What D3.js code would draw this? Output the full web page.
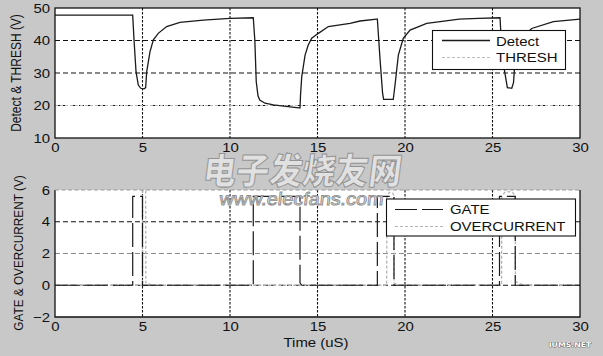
<!DOCTYPE html>
<html>
<head>
<meta charset="utf-8">
<script src="https://cdnjs.cloudflare.com/ajax/libs/d3/7.8.5/d3.min.js"></script>
<style>
  body { margin: 0; background: #c8c8c8; }
  svg { display: block; }
</style>
</head>
<body>
<script>
// ---- data ----
// top panel: Detect (V) against time (uS)
var detectT = [0, 4.44, 4.51, 4.63, 4.76, 4.9, 5.09, 5.18, 5.24, 5.43, 5.62, 5.9, 6.38, 7.14, 8.47, 10.0, 11.33,
  11.42, 11.5, 11.6, 11.7, 12.0, 12.48, 13.43, 13.95,
  14.0, 14.03, 14.1, 14.29, 14.47, 14.67, 15.05, 15.62, 16.86, 17.43, 18.38,
  18.42, 18.57, 18.72, 18.78, 19.33, 19.43, 19.62, 19.9, 20.29, 21.24, 23.1, 24.2, 25.43,
  25.5, 25.68, 25.85, 26.1, 26.2, 26.25, 26.45, 26.8, 27.24, 28.48, 30];
var detectV = [47.8, 47.8, 40.7, 30.4, 26.3, 25.3, 25.1, 25.5, 30.4, 36.6, 40.2, 42.2, 44.3, 45.6, 46.3, 46.8, 47.0,
  40, 27.3, 23, 21.7, 20.7, 20.2, 19.6, 19.3,
  19.3, 23.2, 28.9, 35.5, 38.6, 40.7, 42.2, 44.3, 45.3, 46.0, 46.6,
  46.6, 34.5, 23.7, 21.9, 21.9, 26.3, 35.5, 40.7, 43.2, 45.3, 46.6, 46.8, 47.0,
  40, 30.9, 25.5, 25.3, 27, 30.9, 37, 41.5, 43.7, 45.8, 46.6];
var threshT = [0, 30];
var threshV = [20, 20];

// bottom panel: GATE and OVERCURRENT (V)
var gateT = [0, 4.44, 4.44, 5.0, 5.0, 11.33, 11.33, 14.0, 14.0, 14.1, 18.42, 18.42, 19.37, 19.37, 25.4, 25.4, 26.3, 26.3, 30];
var gateV = [0, 0, 5.6, 5.6, 0, 0, 5.6, 5.6, 0.15, 0, 0, 5.6, 5.6, 0, 0, 5.6, 5.6, 0, 0];
var ocT = [0, 5.0, 5.0, 5.18, 5.19, 5.35, 5.6, 18.95, 18.97, 19.1, 19.3, 19.37, 19.38, 19.6,
  25.52, 25.53, 25.7, 25.9, 26.15, 26.3, 26.31, 26.55, 26.8, 30];
var ocV = [0, 0, 5.95, 5.95, 0.15, 0.08, 0, 0, 5.6, 5.85, 5.8, 5.6, 0.15, 0,
  0, 5.6, 5.85, 5.9, 5.85, 5.6, 0.25, 0.1, 0, 0];

var xTicks = [0, 5, 10, 15, 20, 25, 30];
var topTicks = [10, 20, 30, 40, 50];
var botTicks = [-2, 0, 2, 4, 6];

// ---- drawing ----
var W = 603, H = 356;
var SX = 1.15; // the picture is stretched sideways a little
var font = "'Liberation Sans', Arial, sans-serif";

var svg = d3.select("body").append("svg").attr("width", W).attr("height", H)
  .style("font-family", font);
svg.append("rect").attr("width", W).attr("height", H).attr("fill", "#c8c8c8");

var x = d3.scaleLinear().domain([0, 30]).range([55, 580]);
var yTop = d3.scaleLinear().domain([10, 50]).range([138, 8]);
var yBot = d3.scaleLinear().domain([-2, 6]).range([317, 190]);

function label(g, px, py, str, size, anchor, rot) {
  var t = "translate(" + px + "," + py + ") scale(" + SX + ",1)" + (rot ? " rotate(" + rot + ")" : "");
  return g.append("text").attr("transform", t).attr("text-anchor", anchor || "start")
    .attr("font-size", size).attr("fill", "#111").text(str);
}

function panel(y, yTicks, lightGrid) {
  var g = svg.append("g");
  var x0 = x.range()[0], x1 = x.range()[1];
  var yb = y.range()[0], yt = y.range()[1];
  g.append("rect").attr("x", x0).attr("y", yt).attr("width", x1 - x0).attr("height", yb - yt).attr("fill", "#fff");

  // vertical grid (dotted)
  g.selectAll(".vg").data(xTicks.slice(1, -1)).enter().append("line")
    .attr("x1", d => x(d)).attr("x2", d => x(d)).attr("y1", yt).attr("y2", yb)
    .attr("stroke", "#111").attr("stroke-width", 1.1).attr("stroke-dasharray", "2.5,1.5");
  // horizontal grid (dashed)
  g.selectAll(".hg").data(yTicks.slice(1, -1)).enter().append("line")
    .attr("x1", x0).attr("x2", x1).attr("y1", d => y(d)).attr("y2", d => y(d))
    .attr("stroke", d => d === lightGrid ? "#8a8a8a" : "#111")
    .attr("stroke-width", 1.1).attr("stroke-dasharray", "5,3");

  // tick labels
  var xa = d3.axisBottom(x).tickValues(xTicks).tickSize(0).tickPadding(5).tickFormat(d3.format("d"));
  var ax = svg.append("g").attr("transform", "translate(0," + yb + ")").call(xa);
  var ya = d3.axisLeft(y).tickValues(yTicks).tickSize(0).tickPadding(5).tickFormat(d3.format("d"));
  var ay = svg.append("g").attr("transform", "translate(" + x0 + ",0)").call(ya);
  [ax, ay].forEach(function (a) {
    a.select(".domain").remove();
    a.selectAll("text").attr("font-size", 13).attr("font-family", font).attr("fill", "#111");
  });
  ax.selectAll("text").attr("transform", "scale(" + SX + ",1)");
  ay.selectAll("text").attr("x", -5 / SX).attr("transform", "scale(" + SX + ",1)");
  return g;
}

function lineOf(y) {
  return d3.line().x(d => x(d[0])).y(d => y(d[1]));
}

// ---- top panel ----
var gt = panel(yTop, topTicks, null);
gt.append("path").datum(d3.zip(threshT, threshV)).attr("d", lineOf(yTop))
  .attr("fill", "none").attr("stroke", "#bdbdbd").attr("stroke-width", 1.2).attr("stroke-dasharray", "3,2");
gt.append("path").datum(d3.zip(detectT, detectV)).attr("d", lineOf(yTop))
  .attr("fill", "none").attr("stroke", "#1a1a1a").attr("stroke-width", 1.3);
gt.append("rect").attr("x", 55).attr("y", 8).attr("width", 525).attr("height", 130)
  .attr("fill", "none").attr("stroke", "#111").attr("stroke-width", 1.3);

// legend top
var lt = gt.append("g");
lt.append("rect").attr("x", 432.5).attr("y", 30.5).attr("width", 133).attr("height", 39)
  .attr("fill", "#fff").attr("stroke", "#111").attr("stroke-width", 1.1);
lt.append("line").attr("x1", 442).attr("x2", 490).attr("y1", 40.5).attr("y2", 40.5)
  .attr("stroke", "#1a1a1a").attr("stroke-width", 1.3);
lt.append("line").attr("x1", 442).attr("x2", 490).attr("y1", 57.5).attr("y2", 57.5)
  .attr("stroke", "#bdbdbd").attr("stroke-width", 1.2).attr("stroke-dasharray", "3,2");
label(lt, 496, 45.5, "Detect", 13);
label(lt, 496, 62, "THRESH", 13);

label(svg, 21, 73, "Detect & THRESH (V)", 12, "middle", -90);

// ---- bottom panel ----
var gb = panel(yBot, botTicks, 2);
gb.append("path").datum(d3.zip(ocT, ocV)).attr("d", lineOf(yBot))
  .attr("fill", "none").attr("stroke", "#b4b4b4").attr("stroke-width", 1.3).attr("stroke-dasharray", "3,2");
gb.append("path").datum(d3.zip(gateT, gateV)).attr("d", lineOf(yBot))
  .attr("fill", "none").attr("stroke", "#1a1a1a").attr("stroke-width", 1.2).attr("stroke-dasharray", "24,5");
// box: solid on three sides, top edge shows as a light dashed line
gb.append("path").attr("d", "M55,190V317H580V190")
  .attr("fill", "none").attr("stroke", "#111").attr("stroke-width", 1.3);
gb.append("line").attr("x1", 55).attr("x2", 580).attr("y1", 190).attr("y2", 190)
  .attr("stroke", "#999").attr("stroke-width", 1.2).attr("stroke-dasharray", "4,2.5");

// legend bottom
var lb = gb.append("g");
lb.append("rect").attr("x", 386.5).attr("y", 199).attr("width", 189).attr("height", 37)
  .attr("fill", "#fff").attr("stroke", "#111").attr("stroke-width", 1.1);
lb.append("line").attr("x1", 395).attr("x2", 443).attr("y1", 209.5).attr("y2", 209.5)
  .attr("stroke", "#1a1a1a").attr("stroke-width", 1.2).attr("stroke-dasharray", "22,5");
lb.append("line").attr("x1", 395).attr("x2", 443).attr("y1", 226.5).attr("y2", 226.5)
  .attr("stroke", "#b4b4b4").attr("stroke-width", 1.2).attr("stroke-dasharray", "3,2");
label(lb, 450, 214, "GATE", 13);
label(lb, 450, 231, "OVERCURRENT", 13);

label(svg, 23, 253, "GATE & OVERCURRENT (V)", 11.8, "middle", -90);
label(svg, 316, 347, "Time (uS)", 13, "middle");

// ---- watermarks on top of the picture ----
svg.append("text").attr("transform", "translate(301,184) scale(0.92,1) skewX(-8)")
  .attr("text-anchor", "middle").attr("font-family", "'Noto Sans CJK SC'").attr("font-weight", 900)
  .attr("font-size", 36).attr("fill", "#e4e4e4").attr("stroke", "#8e8e8e").attr("stroke-width", 1)
  .attr("opacity", 0.9).text("电子发烧友网");
svg.append("text").attr("transform", "translate(301,205) scale(1.1,1) skewX(-6)")
  .attr("text-anchor", "middle").attr("font-family", font)
  .attr("font-size", 18).attr("fill", "#f4f4f4").attr("stroke", "#8e8e8e").attr("stroke-width", 0.9)
  .text("www.elecfans.com");
svg.append("text").attr("transform", "translate(570,347) scale(1.2,1)")
  .attr("text-anchor", "middle").attr("font-family", "'DejaVu Sans'").attr("font-weight", "bold")
  .attr("font-size", 6.5).attr("fill", "#fff").attr("stroke", "#333").attr("stroke-width", 0.6)
  .attr("paint-order", "stroke").text("IUMS.NET");
</script>
</body>
</html>
